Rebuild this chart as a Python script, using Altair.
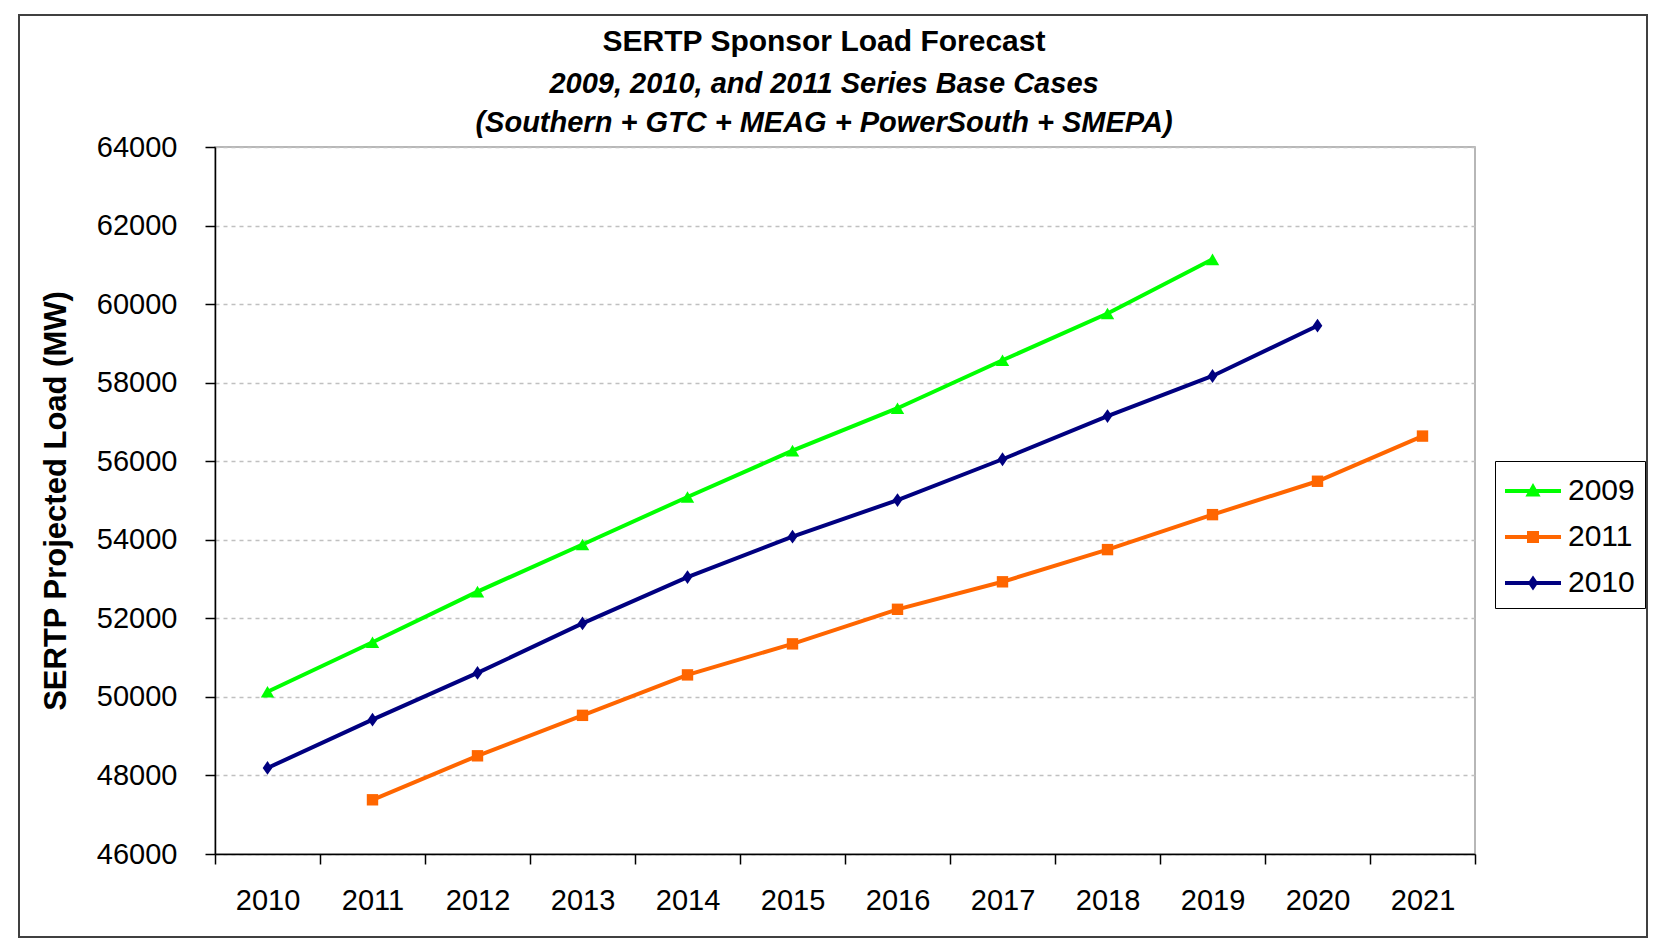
import altair as alt
import pandas as pd

years_all = ["2010", "2011", "2012", "2013", "2014", "2015", "2016", "2017", "2018", "2019", "2020", "2021"]

years_2009 = ["2010", "2011", "2012", "2013", "2014", "2015", "2016", "2017", "2018", "2019"]
load_2009 = [50130, 51390, 52680, 53880, 55090, 56270, 57350, 58570, 59760, 61140]

years_2010 = ["2010", "2011", "2012", "2013", "2014", "2015", "2016", "2017", "2018", "2019", "2020"]
load_2010 = [48190, 49420, 50610, 51870, 53050, 54080, 55010, 56050, 57150, 58170, 59450]

years_2011 = ["2011", "2012", "2013", "2014", "2015", "2016", "2017", "2018", "2019", "2020", "2021"]
load_2011 = [47380, 48500, 49530, 50560, 51350, 52230, 52930, 53750, 54640, 55490, 56640]

series_order = ["2009", "2011", "2010"]
series_colors = ["#00FF00", "#FF6600", "#000080"]
y_ticks = [46000, 48000, 50000, 52000, 54000, 56000, 58000, 60000, 62000, 64000]

rows = []
for s, ys, vs in [("2009", years_2009, load_2009), ("2010", years_2010, load_2010), ("2011", years_2011, load_2011)]:
    for y, v in zip(ys, vs):
        rows.append({"Year": y, "Load": v, "Series": s})
df = pd.DataFrame(rows)

FONT = "Liberation Sans"
W, H = 1260, 707

x_enc = alt.X(
    "Year:O",
    scale=alt.Scale(type="band", domain=years_all, paddingInner=0, paddingOuter=0),
    bandPosition=0.5,
    axis=alt.Axis(
        title=None, labelAngle=0, tickBand="extent", tickSize=10, labelPadding=22,
        grid=False,
    ),
)
y_enc = alt.Y(
    "Load:Q",
    scale=alt.Scale(domain=[46000, 64000], nice=False, zero=False),
    axis=alt.Axis(
        title="SERTP Projected Load (MW)", values=y_ticks, format="d", tickSize=10,
        labelPadding=28, titlePadding=24, titleFontSize=31, titleFontWeight="bold",
        grid=True, gridColor="#c0c0c0", gridDash=[4, 4], gridWidth=1.5,
    ),
)

# legend symbols: a line segment with the series marker (shifted right inside the symbol box)
P_TRI = "M-1.0,-0.1L1.8,-0.1L1.8,0.1L-1.0,0.1Z M0.02,0.27L0.4,-0.4L0.78,0.27Z"
P_SQ = "M-1.0,-0.1L1.8,-0.1L1.8,0.1L-1.0,0.1Z M0.1,-0.3L0.7,-0.3L0.7,0.3L0.1,0.3Z"
P_DIA = "M-1.0,-0.1L1.8,-0.1L1.8,0.1L-1.0,0.1Z M0.4,-0.38L0.66,0L0.4,0.38L0.14,0Z"
P_DIA_MARK = "M0,-1L0.7,0L0,1L-0.7,0Z"


def make_legend():
    return alt.Legend(
        title=None, orient="none", legendX=1280, legendY=314,
        labelFontSize=30, labelFont=FONT, labelColor="black", labelOffset=23,
        symbolSize=1600, rowPadding=11, padding=10, symbolOpacity=1,
        symbolStrokeWidth=0,
        strokeColor="black", fillColor="white",
    )


color_scale = alt.Scale(domain=series_order, range=series_colors)
color_nolegend = alt.Color("Series:N", scale=color_scale, legend=None)

base = alt.Chart(df)

# invisible layer that only carries the legend (first, so its legend settings win)
legend_layer = base.mark_point(filled=True, opacity=0).encode(
    x=x_enc,
    y=y_enc,
    color=alt.Color("Series:N", scale=color_scale, legend=make_legend()),
    shape=alt.Shape(
        "Series:N",
        scale=alt.Scale(domain=series_order, range=[P_TRI, P_SQ, P_DIA]),
        legend=make_legend(),
    ),
)

lines = base.mark_line(strokeWidth=4).encode(x=x_enc, y=y_enc, color=color_nolegend)

pts_2009 = base.transform_filter(alt.datum.Series == "2009").mark_point(
    filled=True, size=180, opacity=1, shape="triangle-up"
).encode(x=x_enc, y=y_enc, color=color_nolegend)
pts_2011 = base.transform_filter(alt.datum.Series == "2011").mark_point(
    filled=True, size=130, opacity=1, shape="square"
).encode(x=x_enc, y=y_enc, color=color_nolegend)
pts_2010 = base.transform_filter(alt.datum.Series == "2010").mark_point(
    filled=True, size=190, opacity=1, shape=P_DIA_MARK
).encode(x=x_enc, y=y_enc, color=color_nolegend)

frame = alt.Chart(alt.InlineData(values=[{"f": 1}])).mark_rect(
    fillOpacity=0, stroke="#404040", strokeWidth=2
).encode(
    x=alt.value(-196), x2=alt.value(1432), y=alt.value(-132), y2=alt.value(790)
)

chart = alt.layer(frame, legend_layer, lines, pts_2009, pts_2011, pts_2010).properties(
    width=W,
    height=H,
    padding={"left": 10, "top": 6, "right": 0, "bottom": 0},
    title=alt.Title(
        "SERTP Sponsor Load Forecast",
        subtitle=["2009, 2010, and 2011 Series Base Cases", "(Southern + GTC + MEAG + PowerSouth + SMEPA)"],
        font=FONT, fontSize=30, fontWeight="bold", color="black",
        subtitleFont=FONT, subtitleFontSize=29, subtitleFontStyle="italic",
        subtitleFontWeight="bold", subtitleColor="black", subtitleLineHeight=39,
        subtitlePadding=13, anchor="middle", dx=-21, offset=-124,
    ),
).configure(
    background="white",
    font=FONT,
).configure_view(
    stroke="#a0a0a0", strokeWidth=1.5
).configure_axis(
    labelFont=FONT, labelFontSize=29, labelColor="black",
    titleFont=FONT, titleColor="black",
    domainColor="black", domainWidth=1.5, tickColor="black", tickWidth=1.5,
)

chart.save("out.html", embed_options={"renderer": "svg", "actions": False})
